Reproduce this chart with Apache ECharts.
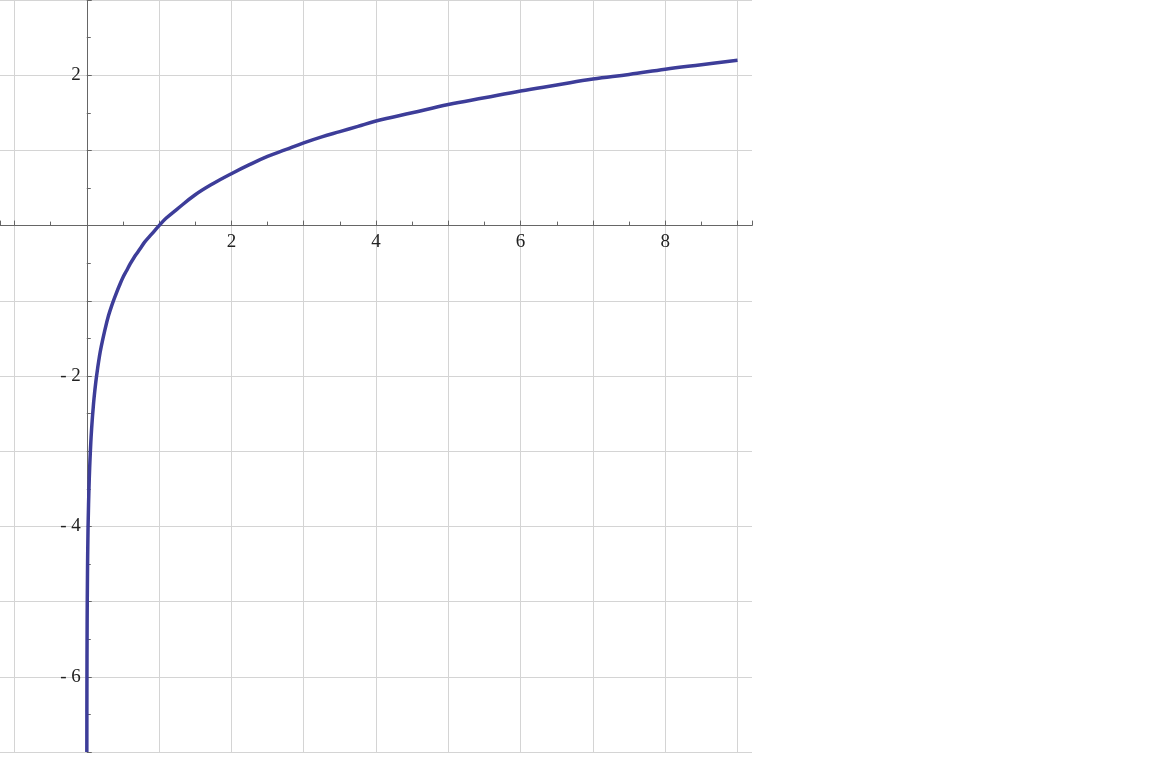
<!DOCTYPE html>
<html>
<head>
<meta charset="utf-8">
<script src="https://cdn.jsdelivr.net/npm/echarts@6/dist/echarts.min.js"></script>
<style>
  html, body { margin: 0; padding: 0; background: #fff; }
  #chart { width: 1160px; height: 764px; }
</style>
</head>
<body>
<div id="chart"></div>
<script>
// points
const xValues = [0.0009, 0.002, 0.005, 0.01, 0.015, 0.02, 0.03, 0.04, 0.05, 0.06, 0.075, 0.09, 0.1, 0.125, 0.15, 0.175, 0.2,
  0.25, 0.3, 0.35, 0.4, 0.45, 0.5, 0.55, 0.6, 0.65, 0.7, 0.75, 0.8, 0.9, 1, 1.1, 1.25, 1.5, 1.75, 2, 2.25, 2.5, 2.75, 3,
  3.25, 3.5, 3.75, 4, 4.5, 5, 5.5, 6, 6.5, 7, 7.5, 8, 8.5, 9];
const yValues = [-7.0, -6.21, -5.3, -4.61, -4.2, -3.91, -3.51, -3.22, -3.0, -2.81, -2.59, -2.41, -2.3, -2.08, -1.9, -1.74, -1.61,
  -1.39, -1.2, -1.05, -0.92, -0.8, -0.69, -0.6, -0.51, -0.43, -0.36, -0.29, -0.22, -0.11, 0, 0.1, 0.22, 0.41, 0.56, 0.69,
  0.81, 0.92, 1.01, 1.1, 1.18, 1.25, 1.32, 1.39, 1.5, 1.61, 1.7, 1.79, 1.87, 1.95, 2.01, 2.08, 2.14, 2.2];
const xTickLabels = [2, 4, 6, 8];
const yTickLabels = [2, -2, -4, -6];

const chart = echarts.init(document.getElementById("chart"));

const gridW = 752;
const gridH = 752;
const xMin = -1.2;
const xMax = 9.2;
const yMin = -7;
const yMax = 3;

const labelFont = {
  fontFamily: "Liberation Serif",
  fontSize: 19,
  color: "#222",
};

// 把坐标轴挪到原点所在位置
const xAxisOffset = -gridH * (0 - yMin) / (yMax - yMin);
const yAxisOffset = -gridW * (0 - xMin) / (xMax - xMin);

const option = {
  animation: false,
  grid: { left: 0, top: 0, width: gridW, height: gridH, outerBoundsMode: "none", containLabel: false },
  xAxis: {
    type: "value",
    min: xMin,
    max: xMax,
    splitNumber: 10,
    position: "bottom",
    offset: xAxisOffset,
    axisLine: { onZero: false, lineStyle: { color: "#666", width: 1 } },
    axisTick: { show: true, inside: true, length: 5, lineStyle: { color: "#666" } },
    minorTick: { show: true, splitNumber: 2, length: 4, lineStyle: { color: "#666" } },
    splitLine: { show: true, showMinLine: false, showMaxLine: false, lineStyle: { color: "#d4d4d4" } },
    axisLabel: {
      ...labelFont,
      margin: 7,
      showMinLabel: false,
      showMaxLabel: false,
      hideOverlap: false,
      formatter: (v) => (xTickLabels.includes(v) ? String(v) : ""),
    },
  },
  yAxis: {
    type: "value",
    min: yMin,
    max: yMax,
    interval: 1,
    position: "left",
    offset: yAxisOffset,
    axisLine: { onZero: false, lineStyle: { color: "#666", width: 1 } },
    axisTick: { show: true, inside: true, length: 5, lineStyle: { color: "#666" } },
    minorTick: { show: true, splitNumber: 2, length: 4, lineStyle: { color: "#666" } },
    splitLine: { show: true, lineStyle: { color: "#d4d4d4" } },
    axisLabel: {
      ...labelFont,
      margin: 6,
      hideOverlap: false,
      formatter: (v) => {
        if (!yTickLabels.includes(v)) return "";
        return v < 0 ? "- " + -v : String(v);
      },
    },
  },
  series: [
    {
      type: "line",
      data: xValues.map((x, i) => [x, yValues[i]]),
      showSymbol: false,
      smooth: 0.4,
      lineStyle: { color: "#3d3d99", width: 3.5 },
    },
  ],
};

chart.setOption(option);
</script>
</body>
</html>
